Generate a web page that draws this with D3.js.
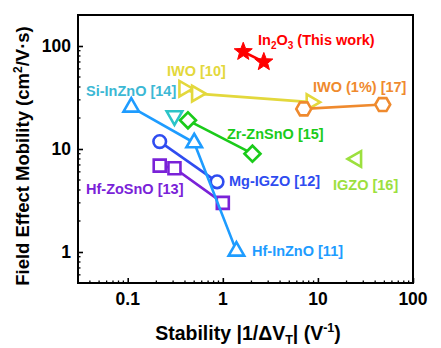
<!DOCTYPE html>
<html>
<head>
<meta charset="utf-8">
<script src="https://cdn.jsdelivr.net/npm/d3@7/dist/d3.min.js"></script>
<style>
  html, body { margin: 0; padding: 0; background: #fff; }
  svg { display: block; font-family: "Liberation Sans", Arial, sans-serif; font-weight: bold; }
</style>
</head>
<body>
<svg id="chart" width="441" height="348"></svg>
<script>
// Series: stability |1/ΔVT| (V^-1) and field effect mobility (cm²/V·s)
const in2o3X = [1.64, 2.7];      const in2o3Y = [88, 70];
const iwo10X = [0.39, 0.53, 8.5]; const iwo10Y = [38.5, 34.5, 28.5];
const iwo17X = [7.1, 48];        const iwo17Y = [24.5, 27];
const siX = [0.31];              const siY = [21];
const zrX = [0.43, 2.05];        const zrY = [19, 9];
const hfInX = [0.109, 0.5, 1.39]; const hfInY = [25.5, 11.5, 1.02];
const mgX = [0.217, 0.87];       const mgY = [11.8, 4.8];
const hfZoX = [0.217, 0.31, 1.0]; const hfZoY = [6.9, 6.5, 3.0];
const igzoX = [25.5];            const igzoY = [8];

const xTicks = [0.1, 1, 10, 100];
const yTicks = [1, 10, 100];

const series = [
  { name: "IWO [10]",    xs: iwo10X, ys: iwo10Y, color: "#e3d83c", shape: "triRight" },
  { name: "IWO (1%) [17]", xs: iwo17X, ys: iwo17Y, color: "#ef8a2e", shape: "hex" },
  { name: "Zr-ZnSnO [15]", xs: zrX, ys: zrY, color: "#1acb1a", shape: "diamond" },
  { name: "Si-InZnO [14]", xs: siX, ys: siY, color: "#2cc4c8", shape: "triDown" },
  { name: "Hf-ZoSnO [13]", xs: hfZoX, ys: hfZoY, color: "#7a22d8", shape: "square" },
  { name: "Mg-IGZO [12]", xs: mgX, ys: mgY, color: "#2f4cf0", shape: "circle" },
  { name: "Hf-InZnO [11]", xs: hfInX, ys: hfInY, color: "#1e9cff", shape: "triUp" },
  { name: "IGZO [16]",   xs: igzoX, ys: igzoY, color: "#9ce03e", shape: "triLeft" },
  { name: "In2O3",       xs: in2o3X, ys: in2o3Y, color: "#ff0000", shape: "star" }
];

const svg = d3.select("#chart");
const m = { left: 78, top: 15, right: 413, bottom: 283 };

const x = d3.scaleLog().domain([0.03, 100]).range([m.left, m.right]);
const y = d3.scaleLog().domain([0.5, 200]).range([m.bottom, m.top]);

// marker path generators centred on (0,0)
function triangle(r, angleDeg) {
  const pts = [0, 120, 240].map(a => {
    const t = (a + angleDeg - 90) * Math.PI / 180;
    return [r * Math.cos(t), r * Math.sin(t)];
  });
  return "M" + pts.map(p => p.join(",")).join("L") + "Z";
}
function polygon(n, r, offDeg) {
  const pts = d3.range(n).map(i => {
    const t = (i * 360 / n + offDeg) * Math.PI / 180;
    return [r * Math.cos(t), r * Math.sin(t)];
  });
  return "M" + pts.map(p => p.join(",")).join("L") + "Z";
}
function star(ro, ri) {
  const pts = d3.range(10).map(i => {
    const r = i % 2 ? ri : ro;
    const t = (i * 36 - 90) * Math.PI / 180;
    return [r * Math.cos(t), r * Math.sin(t)];
  });
  return "M" + pts.map(p => p.join(",")).join("L") + "Z";
}
const shapes = {
  triUp: triangle(9, 0),
  triDown: triangle(9, 180),
  triRight: triangle(9, 90),
  triLeft: triangle(9, -90),
  hex: polygon(6, 7.5, 0),
  diamond: polygon(4, 8, 0),
  square: "M-6,-6L6,-6L6,6L-6,6Z",
  circle: d3.symbol(d3.symbolCircle, Math.PI * 6.3 * 6.3)(),
  star: star(9.5, 4)
};

// axes frame with inward ticks
const plot = svg.append("g");
const xAxis = d3.axisBottom(x).tickValues(xTicks).tickSize(-5).tickFormat("");
const yAxis = d3.axisLeft(y).tickValues(yTicks).tickSize(-5).tickFormat("");
plot.append("g").attr("transform", `translate(0,${m.bottom})`).call(xAxis)
  .call(g => g.select(".domain").remove())
  .call(g => g.selectAll("line").attr("stroke", "#000").attr("stroke-width", 1.6));
plot.append("g").attr("transform", `translate(${m.left},0)`).call(yAxis)
  .call(g => g.select(".domain").remove())
  .call(g => g.selectAll("line").attr("stroke", "#000").attr("stroke-width", 1.6));

// minor ticks
const minorX = [];
[0.01, 0.1, 1, 10].forEach(d => d3.range(2, 10).forEach(k => { const v = d * k; if (v > 0.03 && v < 100) minorX.push(v); }));
const minorY = [];
[0.1, 1, 10, 100].forEach(d => d3.range(2, 10).forEach(k => { const v = d * k; if (v > 0.5 && v < 200) minorY.push(v); }));
plot.append("g").selectAll("line").data(minorX).join("line")
  .attr("x1", d => x(d)).attr("x2", d => x(d))
  .attr("y1", m.bottom).attr("y2", m.bottom - 2.5)
  .attr("stroke", "#000").attr("stroke-width", 1.3);
plot.append("g").selectAll("line").data(minorY).join("line")
  .attr("y1", d => y(d)).attr("y2", d => y(d))
  .attr("x1", m.left).attr("x2", m.left + 2.5)
  .attr("stroke", "#000").attr("stroke-width", 1.3);

plot.append("rect")
  .attr("x", m.left).attr("y", m.top)
  .attr("width", m.right - m.left).attr("height", m.bottom - m.top)
  .attr("fill", "none").attr("stroke", "#000").attr("stroke-width", 2);

// tick labels
svg.append("g").selectAll("text").data(xTicks).join("text")
  .attr("x", d => x(d)).attr("y", 305)
  .attr("text-anchor", "middle").attr("font-size", 17.5)
  .text(d => d3.format("~g")(d));
svg.append("g").selectAll("text").data(yTicks).join("text")
  .attr("x", 71).attr("y", d => y(d) + 6)
  .attr("text-anchor", "end").attr("font-size", 17.5)
  .text(d => d3.format("~g")(d));

// axis titles
const xt = svg.append("text").attr("x", 248).attr("y", 340)
  .attr("text-anchor", "middle").attr("font-size", 19.5);
xt.append("tspan").text("Stability |1/ΔV");
xt.append("tspan").attr("font-size", 12.5).attr("dy", 4).text("T");
xt.append("tspan").attr("dy", -4).text("| (V");
xt.append("tspan").attr("font-size", 12.5).attr("dy", -8).text("-1");
xt.append("tspan").attr("dy", 8).text(")");

const yt = svg.append("text").attr("transform", `translate(29,${(m.top + m.bottom) / 2 + 7}) rotate(-90)`)
  .attr("text-anchor", "middle").attr("font-size", 18.5);
yt.append("tspan").text("Field Effect Mobility (cm");
yt.append("tspan").attr("font-size", 12).attr("dy", -7).text("2");
yt.append("tspan").attr("dy", 7).text("/V·s)");

// connecting lines then markers
const line = d3.line().x(d => x(d[0])).y(d => y(d[1]));
series.forEach(s => {
  const pts = s.xs.map((v, i) => [v, s.ys[i]]);
  const g = svg.append("g");
  if (pts.length > 1) {
    g.append("path").attr("d", line(pts)).attr("fill", "none")
      .attr("stroke", s.color).attr("stroke-width", 2.6);
  }
  g.selectAll("path.mk").data(pts).join("path").attr("class", "mk")
    .attr("transform", d => `translate(${x(d[0])},${y(d[1])})`)
    .attr("d", shapes[s.shape])
    .attr("fill", s.shape === "star" ? s.color : "#fff")
    .attr("stroke", s.color).attr("stroke-width", s.shape === "star" ? 1 : 2.6)
    .attr("stroke-linejoin", "miter");
});

// series labels
const labels = [
  { t: "IWO [10]", x: 167, y: 76, c: "#e3d83c" },
  { t: "Si-InZnO [14]", x: 86, y: 96, c: "#3cb8d4" },
  { t: "IWO (1%) [17]", x: 313, y: 92, c: "#ef8a2e" },
  { t: "Zr-ZnSnO [15]", x: 227, y: 139, c: "#1acb1a" },
  { t: "Mg-IGZO [12]", x: 229, y: 186, c: "#2f4cf0" },
  { t: "Hf-ZoSnO [13]", x: 86, y: 194, c: "#7a22d8" },
  { t: "IGZO [16]", x: 333, y: 190, c: "#9ce03e" },
  { t: "Hf-InZnO [11]", x: 252, y: 256, c: "#1e9cff" }
];
svg.append("g").selectAll("text").data(labels).join("text")
  .attr("x", d => d.x).attr("y", d => d.y)
  .attr("font-size", 14.5).attr("fill", d => d.c).text(d => d.t);

const il = svg.append("text").attr("x", 258).attr("y", 45).attr("font-size", 14.5).attr("fill", "#ff0000");
il.append("tspan").text("In");
il.append("tspan").attr("font-size", 10).attr("dy", 4).text("2");
il.append("tspan").attr("dy", -4).text("O");
il.append("tspan").attr("font-size", 10).attr("dy", 4).text("3");
il.append("tspan").attr("dy", -4).text(" (This work)");
</script>
</body>
</html>
